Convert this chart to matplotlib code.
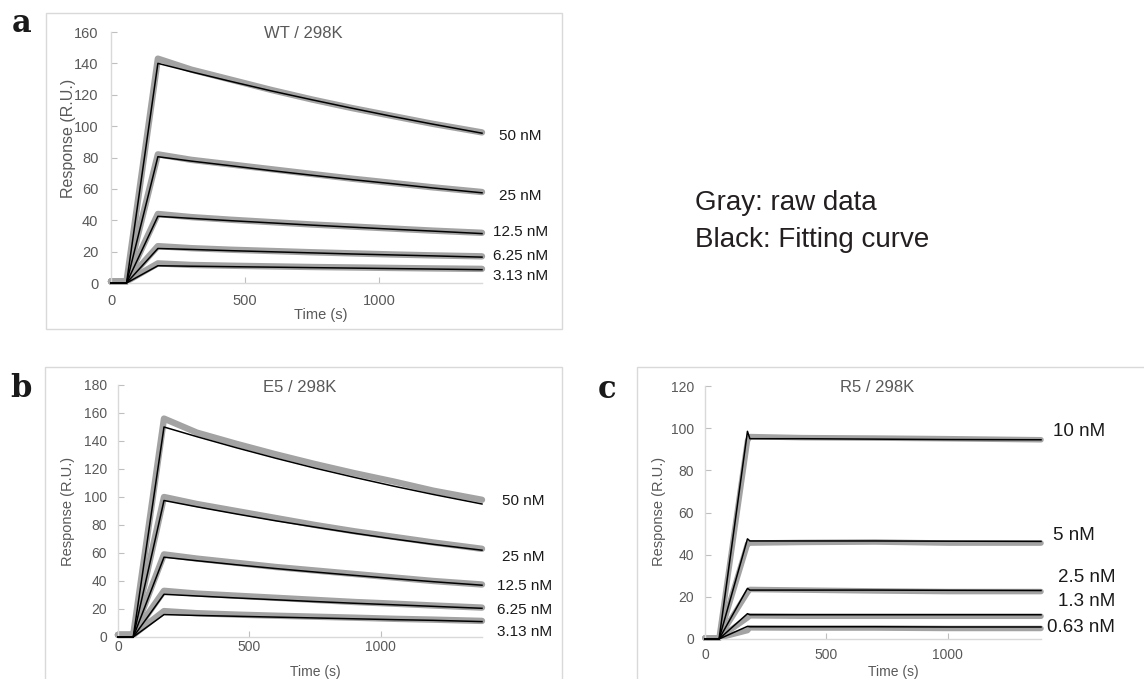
import matplotlib
matplotlib.use('Agg')
import matplotlib.pyplot as plt
from matplotlib.patches import Rectangle

plt.rcParams['font.family'] = ['Liberation Sans', 'DejaVu Sans']

W, H = 1144, 679

# ---- data (time in s, response in R.U.) ----
# a: WT / 298K
t_wt = [0, 58, 175, 300, 450, 600, 750, 900, 1050, 1200, 1385]
wt_labels = ['50 nM', '25 nM', '12.5 nM', '6.25 nM', '3.13 nM']
wt_fit = [
    [0, 0, 140, 134.6, 128.4, 122.4, 116.8, 111.4, 106.2, 101.3, 95.5],
    [0, 0, 80.5, 77.7, 74.7, 71.6, 68.7, 65.9, 63.3, 60.6, 57.5],
    [0, 0, 42.5, 41.2, 39.7, 38.3, 36.9, 35.6, 34.3, 33.1, 31.5],
    [0, 0, 22, 21.4, 20.6, 19.9, 19.2, 18.5, 17.9, 17.3, 16.5],
    [0, 0, 11, 10.7, 10.4, 10.1, 9.8, 9.5, 9.2, 8.9, 8.5],
]
wt_raw = [
    [1, 1, 143, 136, 129.5, 123, 117, 111.5, 106.5, 101.5, 96],
    [1, 1, 82, 78.5, 75.5, 72.5, 69.5, 66.5, 63.8, 61, 58],
    [1, 1, 44, 42, 40.3, 38.8, 37.3, 36, 34.7, 33.4, 32],
    [1, 1, 23.5, 22.2, 21.2, 20.4, 19.6, 18.9, 18.2, 17.6, 17],
    [1, 1, 12.5, 11.5, 11, 10.6, 10.2, 9.9, 9.6, 9.3, 9],
]

# b: E5 / 298K
t_e5 = [0, 58, 175, 300, 450, 600, 750, 900, 1050, 1200, 1385]
e5_labels = ['50 nM', '25 nM', '12.5 nM', '6.25 nM', '3.13 nM']
e5_fit = [
    [0, 0, 150, 143.1, 135.2, 127.7, 120.6, 114.0, 107.7, 101.8, 95],
    [0, 0, 97.5, 93.0, 87.9, 83.0, 78.5, 74.1, 70.0, 66.2, 62],
    [0, 0, 57, 54.5, 51.6, 48.9, 46.4, 44.0, 41.7, 39.5, 37],
    [0, 0, 30.5, 29.3, 27.9, 26.6, 25.3, 24.1, 23.0, 21.9, 20.5],
    [0, 0, 16, 15.4, 14.8, 14.2, 13.6, 13.0, 12.4, 11.9, 11],
]
e5_raw = [
    [1.5, 1.5, 156, 146, 138, 130.5, 123.5, 117, 111, 104.5, 98],
    [1.5, 1.5, 100, 95, 90, 85, 80, 75.5, 71.5, 67.5, 63],
    [1.5, 1.5, 59, 56, 53, 50, 47.5, 45, 42.5, 40, 37.5],
    [1.5, 1.5, 33, 31, 29.5, 28, 26.5, 25, 23.8, 22.5, 21],
    [1.5, 1.5, 18.5, 17, 16, 15.2, 14.5, 13.8, 13, 12.4, 11.5],
]

# c: R5 / 298K
t_r5 = [0, 58, 175, 185, 400, 700, 1000, 1385]
r5_labels = ['10 nM', '5 nM', '2.5 nM', '1.3 nM', '0.63 nM']
r5_fit = [
    [0, 0, 98.5, 95, 95, 94.8, 94.6, 94.5],
    [0, 0, 47.5, 46.5, 46.5, 46.5, 46.4, 46.3],
    [0, 0, 24, 23.2, 23.2, 23.2, 23.1, 23],
    [0, 0, 12, 11.5, 11.5, 11.5, 11.5, 11.5],
    [0, 0, 6, 5.8, 5.8, 5.8, 5.7, 5.7],
]
r5_raw = [
    [0.5, 0.5, 94, 96, 95.5, 95.3, 95, 94.5],
    [0.5, 0.5, 45, 45.5, 45.8, 46, 45.5, 45.5],
    [0.5, 0.5, 22, 23.5, 23.2, 22.8, 22.5, 22.5],
    [0.5, 0.5, 10, 11, 10.8, 10.8, 10.8, 10.8],
    [0.5, 0.5, 4, 5.3, 5.2, 5.2, 5, 5],
]

GRAY = '#a3a3a3'
AXC = '#d9d9d9'
TXT = '#595959'

fig = plt.figure(figsize=(W / 100, H / 100), dpi=100)


def px_text(x, y, s, **kw):
    # place text at pixel position (origin top-left)
    return fig.text(x / W, 1 - y / H, s, **kw)


def make_axes(l, r, b, t):
    return fig.add_axes([l / W, 1 - b / H, (r - l) / W, (b - t) / H])


def style(ax, ymax, ystep, fs, xpad, ypad):
    ax.set_xlim(0, 1385)
    ax.set_ylim(0, ymax)
    ax.set_xticks([0, 500, 1000])
    ax.set_yticks(range(0, ymax + 1, ystep))
    for s in ['top', 'right']:
        ax.spines[s].set_visible(False)
    for s in ['left', 'bottom']:
        ax.spines[s].set_color(AXC)
        ax.spines[s].set_linewidth(1.0)
    ax.tick_params(direction='in', length=4, color='#bfbfbf', labelcolor=TXT, labelsize=fs)
    ax.tick_params(axis='x', pad=xpad)
    ax.tick_params(axis='y', pad=ypad)
    ax.patch.set_alpha(0)


def draw(ax, t, raw, fit, gray_lw):
    for r in raw:
        ax.plot(t, r, color=GRAY, lw=gray_lw, solid_capstyle='round',
                solid_joinstyle='round', zorder=2, clip_on=False)
    for f in fit:
        ax.plot(t, f, color='black', lw=1.1, zorder=3, clip_on=False)


# panel frames
fig.add_artist(Rectangle((46 / W, 1 - 329 / H), (562 - 46) / W, (329 - 13) / H,
                         transform=fig.transFigure, fill=False, edgecolor=AXC, lw=1))
fig.add_artist(Rectangle((45 / W, 1 - 700 / H), (562 - 45) / W, (700 - 367) / H,
                         transform=fig.transFigure, fill=False, edgecolor=AXC, lw=1))
fig.add_artist(Rectangle((637 / W, 1 - 700 / H), (1160 - 637) / W, (700 - 367) / H,
                         transform=fig.transFigure, fill=False, edgecolor=AXC, lw=1))

# ---- a ----
ax_a = make_axes(111, 482, 283, 32)
draw(ax_a, t_wt, wt_raw, wt_fit, 4.6)
style(ax_a, 160, 20, 10.5, 8, 9)
px_text(303, 33, 'WT / 298K', ha='center', va='center', fontsize=12, color=TXT)
px_text(68, 138, 'Response (R.U.)', rotation=90, ha='center', va='center', fontsize=11.5, color=TXT)
px_text(321, 315, 'Time (s)', ha='center', va='center', fontsize=10.5, color=TXT)
for lab, y in zip(wt_labels, [136, 196, 232, 256, 276]):
    px_text(499 if len(lab) < 6 else 493, y, lab, ha='left', va='center', fontsize=11, color='#1a1a1a')

# ---- b ----
ax_b = make_axes(118, 482, 637, 385)
draw(ax_b, t_e5, e5_raw, e5_fit, 4.6)
style(ax_b, 180, 20, 10, 2.5, 8)
px_text(300, 388, 'E5 / 298K', ha='center', va='center', fontsize=12, color=TXT)
px_text(68, 511, 'Response (R.U.)', rotation=90, ha='center', va='center', fontsize=10.5, color=TXT)
px_text(315, 672, 'Time (s)', ha='center', va='center', fontsize=10, color=TXT)
for lab, y in zip(e5_labels, [501, 557, 586, 610, 632]):
    px_text(502 if len(lab) < 6 else 497, y, lab, ha='left', va='center', fontsize=11, color='#1a1a1a')

# ---- c ----
ax_c = make_axes(705, 1041, 639, 386)
draw(ax_c, t_r5, r5_raw, r5_fit, 4.0)
style(ax_c, 120, 20, 10, 6.5, 8)
px_text(877, 388, 'R5 / 298K', ha='center', va='center', fontsize=12, color=TXT)
px_text(659, 511, 'Response (R.U.)', rotation=90, ha='center', va='center', fontsize=10.5, color=TXT)
px_text(893, 672, 'Time (s)', ha='center', va='center', fontsize=10, color=TXT)
for lab, x, y in zip(r5_labels, [1053, 1053, 1058, 1058, 1047], [432, 535, 577, 601, 628]):
    px_text(x, y, lab, ha='left', va='center', fontsize=13.5, color='#1a1a1a')

# panel letters
for lab, x, y in [('a', 22, 32), ('b', 21, 397), ('c', 607, 398)]:
    px_text(x, y, lab, ha='center', va='baseline', fontsize=22, fontweight='bold',
            family='DejaVu Serif', color='#1a1a1a')

# legend note
px_text(695, 210, 'Gray: raw data', ha='left', va='baseline', fontsize=20, color='#231f20')
px_text(695, 247, 'Black: Fitting curve', ha='left', va='baseline', fontsize=20, color='#231f20')

fig.savefig('out.png', dpi=100)
